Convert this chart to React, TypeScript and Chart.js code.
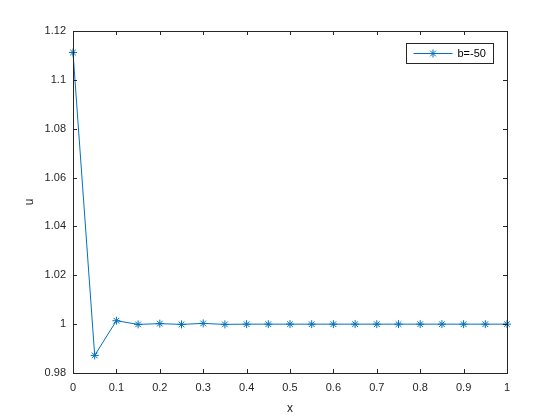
import React, { useEffect, useRef } from "react";
import { Chart, registerables } from "chart.js";

Chart.register(...registerables);

const xValues = [0, 0.05, 0.1, 0.15, 0.2, 0.25, 0.3, 0.35, 0.4, 0.45, 0.5, 0.55, 0.6, 0.65, 0.7, 0.75, 0.8, 0.85, 0.9, 0.95, 1];
const uValues = [1.1112, 0.9872, 1.0014, 0.9999, 1.0002, 0.9999, 1.0003, 0.9999, 1.0, 1.0, 1.0, 1.0, 1.0, 1.0, 1.0, 1.0, 1.0, 1.0, 1.0, 1.0, 1.0];
const seriesLabel = "b=-50";
const xTicks = [0, 0.1, 0.2, 0.3, 0.4, 0.5, 0.6, 0.7, 0.8, 0.9, 1];
const yTicks = [0.98, 1.0, 1.02, 1.04, 1.06, 1.08, 1.1, 1.12];
const xTitle = "x";
const yTitle = "u";

const AXIS_COLOR = "#262626";
const LINE_COLOR = "#0072BD";
const FONT = '"Liberation Sans", Arial, Helvetica, sans-serif';

function drawAsterisk(ctx: CanvasRenderingContext2D, cx: number, cy: number, r: number) {
  ctx.beginPath();
  ctx.moveTo(cx - r, cy);
  ctx.lineTo(cx + r, cy);
  ctx.moveTo(cx, cy - r);
  ctx.lineTo(cx, cy + r);
  const d = r * Math.SQRT1_2;
  ctx.moveTo(cx - d, cy - d);
  ctx.lineTo(cx + d, cy + d);
  ctx.moveTo(cx - d, cy + d);
  ctx.lineTo(cx + d, cy - d);
  ctx.stroke();
}

const framePlugin = {
  id: "matlabFrame",
  afterDatasetsDraw(chart: any) {
    const { ctx, chartArea, scales } = chart;
    const { left, right, top, bottom } = chartArea;
    const xs = scales.x;
    const ys = scales.y;
    const tl = 4;
    ctx.save();
    ctx.strokeStyle = AXIS_COLOR;
    ctx.lineWidth = 1;
    ctx.strokeRect(Math.round(left) + 0.5, Math.round(top) + 0.5, Math.round(right - left), Math.round(bottom - top));
    ctx.beginPath();
    xTicks.forEach((v) => {
      const px = Math.round(xs.getPixelForValue(v)) + 0.5;
      ctx.moveTo(px, bottom);
      ctx.lineTo(px, bottom - tl);
      ctx.moveTo(px, top);
      ctx.lineTo(px, top + tl);
    });
    yTicks.forEach((v) => {
      const py = Math.round(ys.getPixelForValue(v)) + 0.5;
      ctx.moveTo(left, py);
      ctx.lineTo(left + tl, py);
      ctx.moveTo(right, py);
      ctx.lineTo(right - tl, py);
    });
    ctx.stroke();

    // legend box
    const ds = chart.data.datasets[0];
    const bw = 87;
    const bh = 20;
    const bx = Math.round(right - 14 - bw) + 0.5;
    const by = Math.round(top + 12) + 0.5;
    ctx.fillStyle = "#ffffff";
    ctx.fillRect(bx, by, bw, bh);
    ctx.strokeStyle = AXIS_COLOR;
    ctx.strokeRect(bx, by, bw, bh);
    const cy = by + bh / 2;
    ctx.strokeStyle = ds.borderColor;
    ctx.lineWidth = 1;
    ctx.beginPath();
    ctx.moveTo(bx + 7, cy);
    ctx.lineTo(bx + 46, cy);
    ctx.stroke();
    drawAsterisk(ctx, bx + 26.5, cy, 4);
    ctx.fillStyle = "#000000";
    ctx.font = `11px ${FONT}`;
    ctx.textAlign = "left";
    ctx.textBaseline = "middle";
    ctx.fillText(ds.label, bx + 51, cy + 0.5);
    ctx.restore();
  },
};

const fmt = (v: number | string) => String(Number(Number(v).toFixed(2)));

export default function App() {
  const ref = useRef<HTMLCanvasElement | null>(null);

  useEffect(() => {
    document.body.style.margin = "0";
    const canvas = ref.current;
    if (!canvas) return;
    const chart = new Chart(canvas, {
      type: "line",
      data: {
        datasets: [
          {
            label: seriesLabel,
            data: xValues.map((x, i) => ({ x, y: uValues[i] })),
            borderColor: LINE_COLOR,
            backgroundColor: LINE_COLOR,
            borderWidth: 1,
            pointStyle: "star",
            pointRadius: 4,
            pointBorderWidth: 1,
            pointBorderColor: LINE_COLOR,
            pointHoverRadius: 4,
            tension: 0,
            fill: false,
            clip: false,
          } as any,
        ],
      },
      options: {
        responsive: false,
        animation: false,
        devicePixelRatio: 1,
        layout: { padding: { left: 0, top: 31, right: 53, bottom: 0 } },
        plugins: {
          legend: { display: false },
          tooltip: { enabled: false },
        },
        scales: {
          x: {
            type: "linear",
            min: 0,
            max: 1,
            grid: { display: false, drawTicks: false },
            border: { display: false },
            afterBuildTicks: (s: any) => {
              s.ticks = xTicks.map((v) => ({ value: v }));
            },
            afterFit: (s: any) => {
              s.height = 47;
            },
            ticks: {
              autoSkip: false,
              maxRotation: 0,
              padding: 8,
              color: AXIS_COLOR,
              font: { family: FONT, size: 11 },
              callback: (v: any) => fmt(v),
            },
            title: {
              display: true,
              text: xTitle,
              color: AXIS_COLOR,
              font: { family: FONT, size: 12 },
              padding: { top: 0, bottom: 4 },
            },
          },
          y: {
            type: "linear",
            min: 0.98,
            max: 1.12,
            grid: { display: false, drawTicks: false },
            border: { display: false },
            afterBuildTicks: (s: any) => {
              s.ticks = yTicks.map((v) => ({ value: v }));
            },
            afterFit: (s: any) => {
              s.width = 73;
            },
            ticks: {
              autoSkip: false,
              padding: 7,
              color: AXIS_COLOR,
              font: { family: FONT, size: 11 },
              callback: (v: any) => fmt(v),
            },
            title: {
              display: true,
              text: yTitle,
              color: AXIS_COLOR,
              font: { family: FONT, size: 12 },
              padding: { top: 22, bottom: 0 },
            },
          },
        },
      },
      plugins: [framePlugin],
    });
    return () => chart.destroy();
  }, []);

  return (
    <div style={{ position: "absolute", left: 0, top: 0, width: 560, height: 420, background: "#ffffff" }}>
      <canvas ref={ref} width={560} height={420} style={{ width: 560, height: 420 }} />
    </div>
  );
}
